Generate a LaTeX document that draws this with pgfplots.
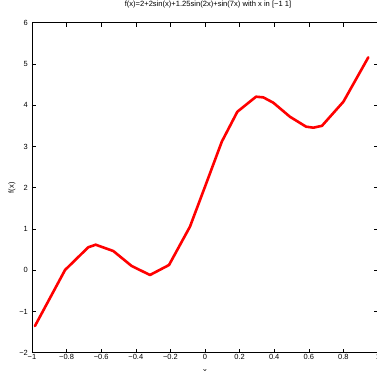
\documentclass[border=0pt]{standalone}
\usepackage{fontspec}
\setmainfont{Liberation Sans}
\usepackage{pgfplots}
\pgfplotsset{compat=1.18}
\begin{document}
\begin{tikzpicture}
\path[use as bounding box] (0bp,0bp) rectangle (377bp,371bp);
\begin{axis}[
  at={(32bp,18.3bp)}, anchor=south west,
  scale only axis, width=346bp, height=330bp,
  xmin=-1, xmax=1, ymin=-2, ymax=6,
  xtick={-1,-0.8,-0.6,-0.4,-0.2,0,0.2,0.4,0.6,0.8,1},
  xticklabels={−1,−0.8,−0.6,−0.4,−0.2,0,0.2,0.4,0.6,0.8,1},
  ytick={-2,-1,0,1,2,3,4,5,6},
  yticklabels={−2,−1,0,1,2,3,4,5,6},
  tick align=inside, major tick length=4bp,
  axis line style={line width=0.9bp},
  tick style={line width=0.6bp, black},
  ticklabel style={font=\fontsize{7.5}{8}\selectfont},
  xticklabel style={inner sep=0pt, anchor=north, yshift=-1.5bp},
  yticklabel style={inner sep=0pt, anchor=east, xshift=-4bp},
  title={f(x)=2+2sin(x)+1.25sin(2x)+sin(7x) with x in [−1 1]},
  title style={font=\fontsize{7.6}{8}\selectfont, at={(axis description cs:0.5,1)}, anchor=base, inner sep=0pt, yshift=10bp, xshift=3bp},
  xlabel={x},
  xlabel style={font=\fontsize{7.5}{8}\selectfont, at={(axis description cs:0.5,0)}, anchor=north, inner sep=0pt, yshift=-16.3bp},
  ylabel={f(x)},
  ylabel style={font=\fontsize{7.5}{8}\selectfont, at={(axis description cs:-0.0578,0.5)}, anchor=center, inner sep=0pt},
]
\addplot[color={rgb,255:red,255;green,0;blue,0}, line width=2.6bp, line join=round, line cap=round] coordinates {
(-0.983,-1.353) (-0.809,0.005) (-0.675,0.555) (-0.632,0.618) (-0.530,0.465)
(-0.424,0.102) (-0.318,-0.116) (-0.208,0.126) (-0.087,1.055) (0.0,2.024)
(0.097,3.115) (0.187,3.842) (0.295,4.206) (0.337,4.19) (0.395,4.06)
(0.491,3.72) (0.584,3.48) (0.626,3.455) (0.676,3.50) (0.80,4.085) (0.944,5.16)
};
\end{axis}
\end{tikzpicture}
\end{document}
